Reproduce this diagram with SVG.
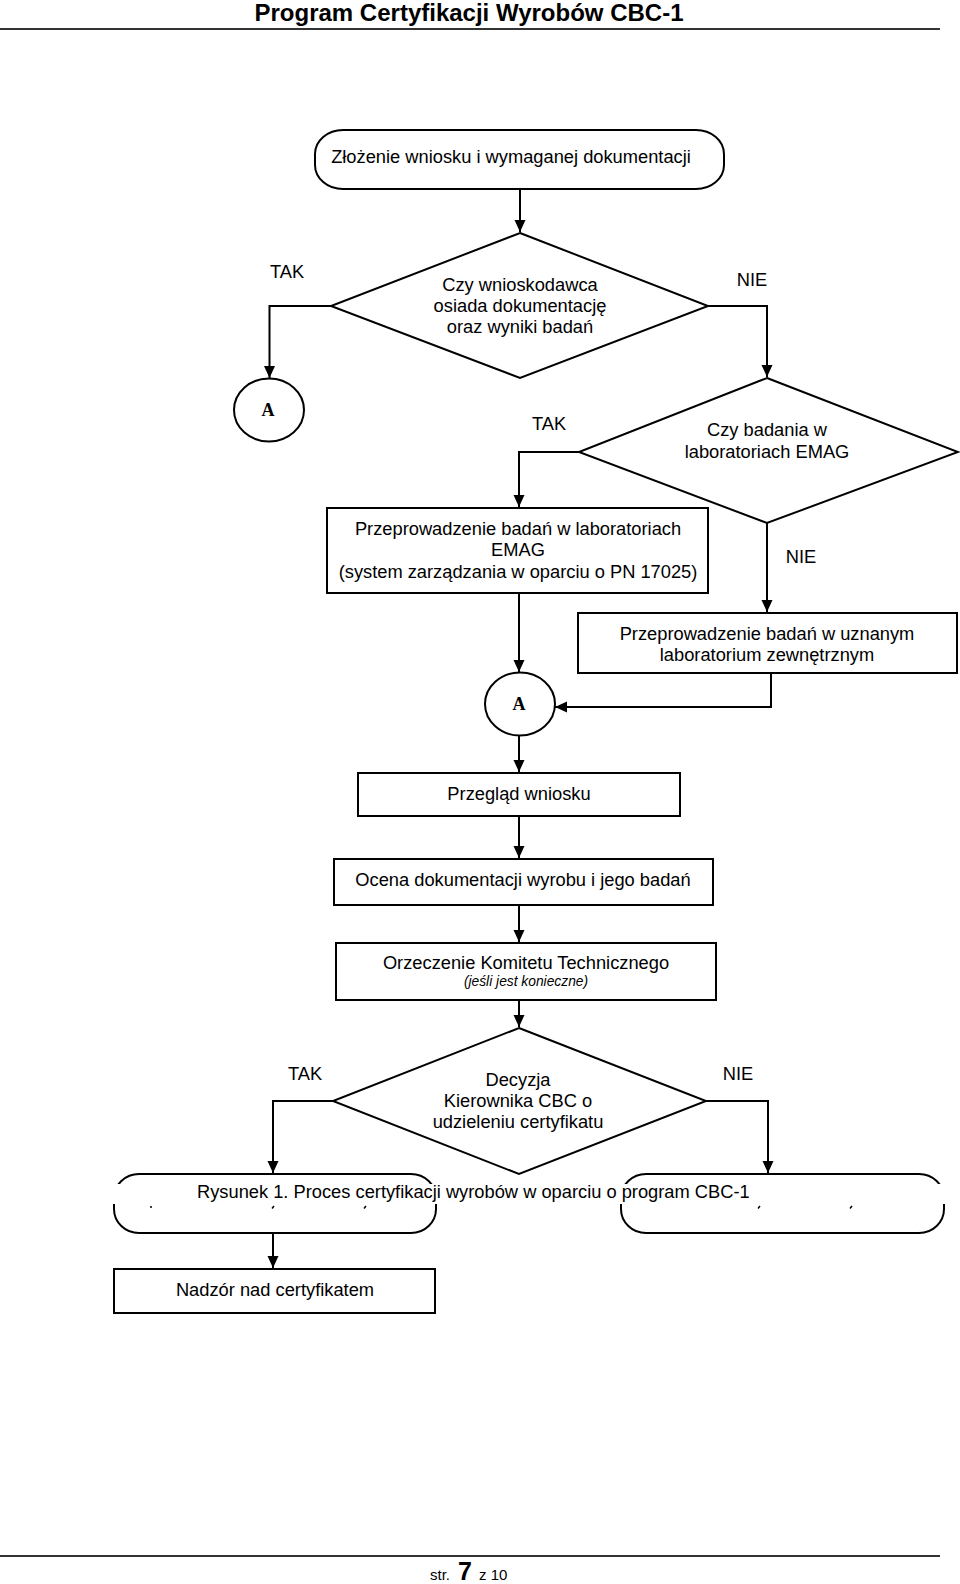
<svg xmlns="http://www.w3.org/2000/svg" width="960" height="1584" viewBox="0 0 960 1584">
<defs>
<marker id="arr" markerUnits="userSpaceOnUse" markerWidth="12" markerHeight="12" refX="12" refY="6" orient="auto">
<path d="M0,0.5 L12,6 L0,11.5 z" fill="#000"/>
</marker>
<style>
.s{fill:#fff;stroke:#000;stroke-width:2}
.c{fill:none;stroke:#000;stroke-width:2;marker-end:url(#arr)}
.l{fill:none;stroke:#000;stroke-width:2}
.t{font-family:"Liberation Sans",Arial,sans-serif;font-size:18.3px;fill:#000;text-anchor:middle}
.a{font-family:"Liberation Serif","Times New Roman",serif;font-size:18px;font-weight:bold;fill:#000;text-anchor:middle}
.rule{stroke:#333;stroke-width:2}
</style>
</defs>
<rect width="960" height="1584" fill="#fff"/>

<g id="header">
<text x="469" y="21" font-family="Liberation Sans,Arial,sans-serif" font-size="24" font-weight="bold" text-anchor="middle" fill="#000">Program Certyfikacji Wyrobów CBC-1</text>
<line class="rule" x1="0" y1="29" x2="940" y2="29"/>
</g>

<g id="connectors">
<path class="c" d="M520,189 V232"/>
<path class="c" d="M331,306 H269.5 V378"/>
<path class="c" d="M708,306 H767 V377"/>
<path class="c" d="M579,452 H519 V507"/>
<path class="c" d="M767,523 V612"/>
<path class="c" d="M519,593 V672"/>
<path class="c" d="M771,673 V707 H555"/>
<path class="c" d="M519,736 V772"/>
<path class="c" d="M519,816 V858"/>
<path class="c" d="M519,905 V942"/>
<path class="c" d="M519,1000 V1027"/>
<path class="c" d="M333,1101 H273 V1173"/>
<path class="c" d="M706,1101 H768 V1173"/>
<path class="c" d="M273,1233 V1268"/>
</g>

<g id="n_start">
<rect class="s" x="315" y="130" width="409" height="59" rx="28" ry="24"/>
<text class="t" x="511" y="163">Złożenie wniosku i wymaganej dokumentacji</text>
</g>

<g id="n_dec1">
<polygon class="s" points="520,233 708,306 520,378 331,306"/>
<text class="t" x="520" y="290.5">Czy wnioskodawca</text>
<text class="t" x="520" y="311.5">osiada dokumentację</text>
<text class="t" x="520" y="332.5">oraz wyniki badań</text>
<text class="t" x="287" y="278">TAK</text>
<text class="t" x="752" y="286">NIE</text>
</g>

<g id="n_A1">
<ellipse class="s" cx="269" cy="410" rx="35" ry="31.5"/>
<text class="a" x="268" y="416">A</text>
</g>

<g id="n_dec2">
<polygon class="s" points="767,378 958,452 767,523 579,452"/>
<text class="t" x="767" y="436">Czy badania w</text>
<text class="t" x="767" y="458">laboratoriach EMAG</text>
<text class="t" x="549" y="430">TAK</text>
<text class="t" x="801" y="563">NIE</text>
</g>

<g id="n_emag">
<rect class="s" x="327" y="508" width="381" height="85"/>
<text class="t" x="518" y="534.5">Przeprowadzenie badań w laboratoriach</text>
<text class="t" x="518" y="556">EMAG</text>
<text class="t" x="518" y="577.5">(system zarządzania w oparciu o PN 17025)</text>
</g>

<g id="n_ext">
<rect class="s" x="578" y="613" width="379" height="60"/>
<text class="t" x="767" y="639.5">Przeprowadzenie badań w uznanym</text>
<text class="t" x="767" y="661">laboratorium zewnętrznym</text>
</g>

<g id="n_A2">
<ellipse class="s" cx="520" cy="704" rx="35" ry="31.5"/>
<text class="a" x="519" y="710">A</text>
</g>

<g id="n_przeglad">
<rect class="s" x="358" y="773" width="322" height="43"/>
<text class="t" x="519" y="799.5">Przegląd wniosku</text>
</g>

<g id="n_ocena">
<rect class="s" x="334" y="859" width="379" height="46"/>
<text class="t" x="523" y="886">Ocena dokumentacji wyrobu i jego badań</text>
</g>

<g id="n_orzeczenie">
<rect class="s" x="336" y="943" width="380" height="57"/>
<text class="t" x="526" y="968.5">Orzeczenie Komitetu Technicznego</text>
<text x="526" y="985.5" font-family="Liberation Sans,Arial,sans-serif" font-size="13.8" font-style="italic" text-anchor="middle" fill="#000">(jeśli jest konieczne)</text>
</g>

<g id="n_dec3">
<polygon class="s" points="519,1028 706,1101 519,1174 333,1101"/>
<text class="t" x="518" y="1085.5">Decyzja</text>
<text class="t" x="518" y="1106.5">Kierownika CBC o</text>
<text class="t" x="518" y="1127.5">udzieleniu certyfikatu</text>
<text class="t" x="305" y="1080">TAK</text>
<text class="t" x="738" y="1080">NIE</text>
</g>

<g id="n_left_term">
<rect class="s" x="114" y="1174" width="322" height="59" rx="25" ry="24"/>
</g>

<g id="n_right_term">
<rect class="s" x="621" y="1174" width="323" height="59" rx="25" ry="24"/>
</g>

<g id="caption">
<rect x="100" y="1184" width="856" height="20" fill="#fff"/>
<text x="197" y="1198" font-family="Liberation Sans,Arial,sans-serif" font-size="18.3" fill="#000">Rysunek 1. Proces certyfikacji wyrobów w oparciu o program CBC-1</text>
<g stroke="#000" stroke-width="1.5" fill="none">
<path d="M151,1206 v2"/>
<path d="M274,1206 l-2,2.5"/>
<path d="M366,1206 l-2,2.5"/>
<path d="M760,1206 l-2,2.5"/>
<path d="M852,1206 l-2,2.5"/>
</g>
</g>

<g id="n_nadzor">
<rect class="s" x="114" y="1269" width="321" height="44"/>
<text class="t" x="275" y="1296">Nadzór nad certyfikatem</text>
</g>

<g id="footer">
<line class="rule" x1="0" y1="1556" x2="940" y2="1556"/>
<text x="430" y="1580" font-family="Liberation Sans,Arial,sans-serif" font-size="15" fill="#000">str.</text>
<text x="458" y="1580" font-family="Liberation Sans,Arial,sans-serif" font-size="25" font-weight="bold" fill="#000">7</text>
<text x="479" y="1580" font-family="Liberation Sans,Arial,sans-serif" font-size="15" fill="#000">z 10</text>
</g>
</svg>
